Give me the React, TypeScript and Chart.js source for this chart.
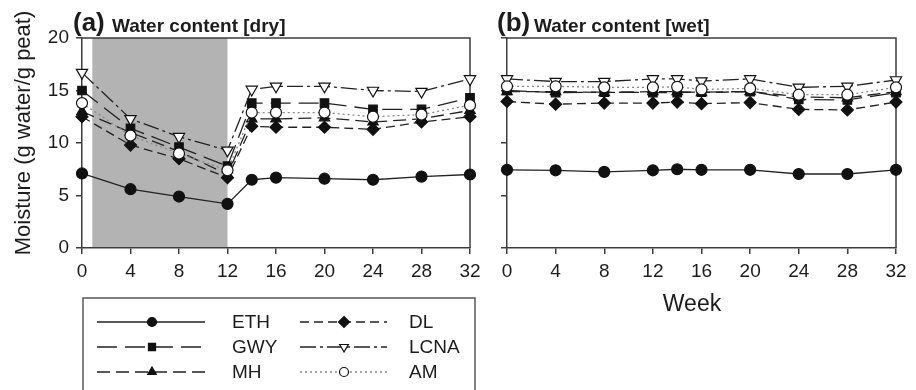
import React, { useEffect, useRef } from "react";
import { Chart, registerables } from "chart.js";

Chart.register(...registerables);

// ---------- data ----------
const WEEKS = [0, 4, 8, 12, 14, 16, 20, 24, 28, 32];
const SERIES_NAMES = ["ETH", "GWY", "MH", "DL", "LCNA", "AM"];

const ETH_DRY = [7.1, 5.6, 4.9, 4.2, 6.5, 6.7, 6.6, 6.5, 6.8, 7.0];
const GWY_DRY = [15.0, 11.4, 9.6, 7.8, 13.8, 13.8, 13.8, 13.2, 13.2, 14.3];
const MH_DRY = [13.0, 11.0, 9.2, 7.0, 12.3, 12.3, 12.4, 12.0, 12.3, 13.1];
const DL_DRY = [12.5, 9.8, 8.5, 6.7, 11.6, 11.5, 11.5, 11.3, 12.0, 12.5];
const LCNA_DRY = [16.7, 12.3, 10.6, 9.3, 15.1, 15.4, 15.4, 15.0, 14.9, 16.1];
const AM_DRY = [13.8, 10.7, 9.0, 7.4, 12.9, 12.9, 12.9, 12.5, 12.7, 13.6];

const ETH_WET = [7.45, 7.4, 7.25, 7.4, 7.5, 7.45, 7.45, 7.05, 7.05, 7.45];
const GWY_WET = [15.0, 14.8, 14.85, 14.8, 14.8, 14.85, 14.9, 14.15, 14.1, 14.8];
const MH_WET = [14.9, 14.9, 14.8, 14.9, 14.9, 14.8, 14.9, 14.4, 14.3, 14.9];
const DL_WET = [13.95, 13.7, 13.8, 13.8, 13.9, 13.75, 13.85, 13.2, 13.15, 13.9];
const LCNA_WET = [16.1, 15.85, 15.85, 16.1, 16.1, 15.9, 16.1, 15.3, 15.4, 16.0];
const AM_WET = [15.4, 15.4, 15.3, 15.3, 15.35, 15.1, 15.2, 14.6, 14.6, 15.3];

const DRY_VALUES = [ETH_DRY, GWY_DRY, MH_DRY, DL_DRY, LCNA_DRY, AM_DRY];
const WET_VALUES = [ETH_WET, GWY_WET, MH_WET, DL_WET, LCNA_WET, AM_WET];

const X_MIN = 0;
const X_MAX = 32;
const X_STEP = 4;
const Y_MIN = 0;
const Y_MAX = 20;
const Y_STEP = 5;
const SHADE_START = 0.85;
const SHADE_END = 12;

const TITLE_A = "Water content [dry]";
const TITLE_B = "Water content [wet]";
const TAG_A = "(a)";
const TAG_B = "(b)";
const Y_TITLE = "Moisture (g water/g peat)";
const X_TITLE = "Week";

// ---------- styles ----------
const FONT = "'Liberation Sans', Arial, Helvetica, sans-serif";
const AXIS_COLOR = "#3c3c3c";
const TEXT_COLOR = "#1c1c1c";
const SHADE_COLOR = "#b3b3b3";

type SeriesStyle = {
  dash: number[];
  pointStyle: string;
  rotation: number;
  radius: number;
  legendRadius: number;
  fill: string;
  line: string;
  order: number;
};

const STYLES: SeriesStyle[] = [
  { dash: [], pointStyle: "circle", rotation: 0, radius: 5.5, legendRadius: 4.5, fill: "#111", line: "#222", order: 5 },
  { dash: [20, 8], pointStyle: "rect", rotation: 0, radius: 6, legendRadius: 5, fill: "#111", line: "#222", order: 3 },
  { dash: [13, 6], pointStyle: "triangle", rotation: 0, radius: 6, legendRadius: 5, fill: "#111", line: "#222", order: 4 },
  { dash: [9, 5], pointStyle: "rectRot", rotation: 0, radius: 6, legendRadius: 5.5, fill: "#111", line: "#222", order: 2 },
  { dash: [16, 4, 3, 4], pointStyle: "triangle", rotation: 180, radius: 6.5, legendRadius: 5, fill: "#fff", line: "#222", order: 1 },
  { dash: [2, 3], pointStyle: "circle", rotation: 0, radius: 5.5, legendRadius: 4.5, fill: "#fff", line: "#888", order: 0 },
];

function buildDatasets(values: number[][]) {
  return SERIES_NAMES.map((name, i) => {
    const s = STYLES[i];
    return {
      label: name,
      data: WEEKS.map((w, j) => ({ x: w, y: values[i][j] })),
      borderColor: s.line,
      borderWidth: 1.3,
      borderDash: s.dash,
      pointStyle: s.pointStyle,
      rotation: s.rotation,
      pointRotation: s.rotation,
      pointRadius: s.radius,
      pointBackgroundColor: s.fill,
      pointBorderColor: "#111",
      pointBorderWidth: 1.2,
      tension: 0,
      fill: false,
      clip: false,
      order: s.order,
    };
  });
}

function drawMarker(ctx: CanvasRenderingContext2D, style: SeriesStyle, x: number, y: number, r: number) {
  ctx.save();
  ctx.setLineDash([]);
  ctx.fillStyle = style.fill;
  ctx.strokeStyle = "#111";
  ctx.lineWidth = 1.2;
  ctx.beginPath();
  if (style.pointStyle === "circle") {
    ctx.arc(x, y, r, 0, Math.PI * 2);
  } else if (style.pointStyle === "rect") {
    const h = r * Math.SQRT1_2;
    ctx.rect(x - h, y - h, 2 * h, 2 * h);
  } else if (style.pointStyle === "rectRot") {
    ctx.moveTo(x, y - r);
    ctx.lineTo(x + r, y);
    ctx.lineTo(x, y + r);
    ctx.lineTo(x - r, y);
    ctx.closePath();
  } else if (style.pointStyle === "triangle") {
    const rot = (style.rotation * Math.PI) / 180;
    for (let k = 0; k < 3; k++) {
      const a = rot + (k * 2 * Math.PI) / 3;
      const px = x + Math.sin(a) * r;
      const py = y - Math.cos(a) * r;
      if (k === 0) ctx.moveTo(px, py);
      else ctx.lineTo(px, py);
    }
    ctx.closePath();
  }
  ctx.fill();
  ctx.stroke();
  ctx.restore();
}

type ChromeOpts = {
  tag: string;
  title: string;
  tagX: number;
  titleX: number;
  shade: boolean;
  yTitle: boolean;
  xTitle: boolean;
  legend: boolean;
  offsetX: number;
};

function makeChrome(o: ChromeOpts) {
  return {
    id: "chrome",
    beforeDraw(chart: any) {
      if (!o.shade) return;
      const { ctx, chartArea } = chart;
      const xs = chart.scales.x;
      const x1 = xs.getPixelForValue(SHADE_START);
      const x2 = xs.getPixelForValue(SHADE_END);
      ctx.save();
      ctx.fillStyle = SHADE_COLOR;
      ctx.fillRect(x1, chartArea.top, x2 - x1, chartArea.bottom - chartArea.top);
      ctx.restore();
    },
    beforeDatasetsDraw(chart: any) {
      const { ctx, chartArea } = chart;
      ctx.save();
      ctx.strokeStyle = AXIS_COLOR;
      ctx.lineWidth = 1.5;
      ctx.setLineDash([]);
      ctx.beginPath();
      ctx.moveTo(chartArea.left, chartArea.top);
      ctx.lineTo(chartArea.right, chartArea.top);
      ctx.lineTo(chartArea.right, chartArea.bottom);
      ctx.stroke();
      ctx.restore();
    },
    afterDraw(chart: any) {
      const { ctx, chartArea } = chart;
      const ox = o.offsetX;
      ctx.save();
      ctx.fillStyle = TEXT_COLOR;
      ctx.textBaseline = "alphabetic";
      ctx.textAlign = "left";
      ctx.font = `bold 26px ${FONT}`;
      ctx.fillText(o.tag, o.tagX - ox, 31);
      ctx.font = `bold 19px ${FONT}`;
      ctx.fillText(o.title, o.titleX - ox, 32);

      if (o.yTitle) {
        ctx.save();
        ctx.translate(24 - ox, 133);
        ctx.rotate(-Math.PI / 2);
        ctx.textAlign = "center";
        ctx.textBaseline = "middle";
        ctx.font = `22px ${FONT}`;
        ctx.fillText(Y_TITLE, 0, 0);
        ctx.restore();
      }
      if (o.xTitle) {
        ctx.textAlign = "center";
        ctx.textBaseline = "middle";
        ctx.font = `23px ${FONT}`;
        ctx.fillText(X_TITLE, 692 - ox, 305);
      }
      if (o.legend) {
        // frame
        ctx.strokeStyle = "#555";
        ctx.lineWidth = 1.5;
        ctx.strokeRect(83 - ox, 298, 392, 120);
        const cols = [
          { x1: 97, x2: 205, mx: 152, tx: 232 },
          { x1: 300, x2: 387, mx: 344, tx: 409 },
        ];
        const rows = [322, 347, 372];
        SERIES_NAMES.forEach((name, i) => {
          const c = cols[Math.floor(i / 3)];
          const y = rows[i % 3];
          const s = STYLES[i];
          ctx.save();
          ctx.strokeStyle = s.line;
          ctx.lineWidth = 1.3;
          ctx.setLineDash(s.dash);
          ctx.beginPath();
          ctx.moveTo(c.x1 - ox, y);
          ctx.lineTo(c.x2 - ox, y);
          ctx.stroke();
          ctx.restore();
          drawMarker(ctx, s, c.mx - ox, y, s.legendRadius);
          ctx.fillStyle = TEXT_COLOR;
          ctx.textAlign = "left";
          ctx.textBaseline = "middle";
          ctx.font = `19px ${FONT}`;
          ctx.fillText(name, c.tx - ox, y + 1);
        });
      }
      ctx.restore();
    },
  };
}

function makeConfig(values: number[][], showYLabels: boolean, yWidth: number, chrome: ChromeOpts) {
  const tickFont = { family: FONT, size: 19 };
  return {
    type: "line" as const,
    data: { datasets: buildDatasets(values) },
    options: {
      responsive: false,
      animation: false as const,
      devicePixelRatio: 1,
      events: [] as any[],
      layout: { padding: { left: 0, top: 38, right: 20, bottom: 102 } },
      plugins: { legend: { display: false }, tooltip: { enabled: false } },
      scales: {
        x: {
          type: "linear" as const,
          min: X_MIN,
          max: X_MAX,
          ticks: { stepSize: X_STEP, font: tickFont, color: TEXT_COLOR, padding: 6, maxRotation: 0 },
          grid: { drawOnChartArea: false, drawTicks: true, tickLength: 6, color: AXIS_COLOR, lineWidth: 1.5 },
          border: { display: true, color: AXIS_COLOR, width: 1.5 },
          afterFit(scale: any) {
            scale.height = 40;
          },
        },
        y: {
          type: "linear" as const,
          min: Y_MIN,
          max: Y_MAX,
          ticks: { stepSize: Y_STEP, font: tickFont, color: TEXT_COLOR, padding: 7, display: showYLabels },
          grid: { drawOnChartArea: false, drawTicks: true, tickLength: 6, color: AXIS_COLOR, lineWidth: 1.5 },
          border: { display: true, color: AXIS_COLOR, width: 1.5 },
          afterFit(scale: any) {
            scale.width = yWidth;
          },
        },
      },
    },
    plugins: [makeChrome(chrome)],
  };
}

export default function App() {
  const refA = useRef<HTMLCanvasElement>(null);
  const refB = useRef<HTMLCanvasElement>(null);

  useEffect(() => {
    const a = new Chart(
      refA.current as HTMLCanvasElement,
      makeConfig(DRY_VALUES, true, 82, {
        tag: TAG_A,
        title: TITLE_A,
        tagX: 73,
        titleX: 112,
        shade: true,
        yTitle: true,
        xTitle: false,
        legend: true,
        offsetX: 0,
      }) as any
    );
    const b = new Chart(
      refB.current as HTMLCanvasElement,
      makeConfig(WET_VALUES, false, 37, {
        tag: TAG_B,
        title: TITLE_B,
        tagX: 497,
        titleX: 534,
        shade: false,
        yTitle: false,
        xTitle: true,
        legend: false,
        offsetX: 470,
      }) as any
    );
    return () => {
      a.destroy();
      b.destroy();
    };
  }, []);

  return (
    <div
      style={{
        position: "fixed",
        left: 0,
        top: 0,
        width: 916,
        height: 390,
        background: "#fff",
        overflow: "hidden",
      }}
    >
      <canvas
        ref={refA}
        width={490}
        height={390}
        style={{ position: "absolute", left: 0, top: 0, width: 490, height: 390 }}
      />
      <canvas
        ref={refB}
        width={446}
        height={390}
        style={{ position: "absolute", left: 470, top: 0, width: 446, height: 390 }}
      />
    </div>
  );
}
